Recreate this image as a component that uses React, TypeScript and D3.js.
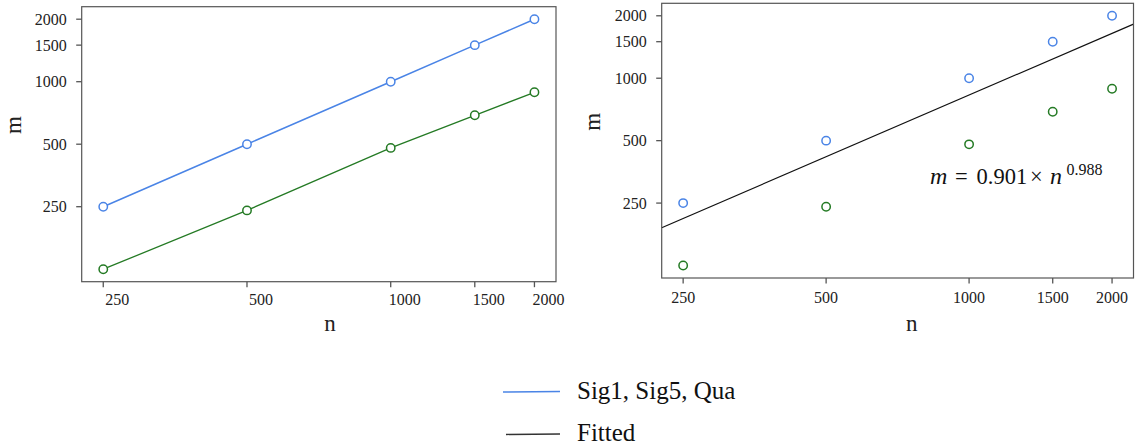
import React from "react";
import * as d3 from "d3";

const nValues = [250, 500, 1000, 1500, 2000];
const sigValues = [250, 500, 1000, 1500, 2000];
const otherValues = [125, 240, 480, 689, 889];
const xTicks = [250, 500, 1000, 1500, 2000];
const yTicks = [250, 500, 1000, 1500, 2000];
const fitCoef = 0.901;
const fitExp = 0.988;
const legendLabels = ["Sig1, Sig5, Qua", "Fitted"];

const BLUE = "#4a84e6";
const GREEN = "#247a24";
const SPINE = "#555";
const FONT = "'Liberation Serif', 'Times New Roman', serif";

function padLog(lo: number, hi: number): [number, number] {
  const a = Math.log10(lo), b = Math.log10(hi);
  const p = (b - a) * 0.05;
  return [Math.pow(10, a - p), Math.pow(10, b + p)];
}

type PanelProps = {
  left: number; right: number; top: number; bottom: number;
  connect: boolean; fit: boolean; xLabelDx: number; xLabelY: number;
  nX: number; mX: number; mY: number;
};

function Panel(p: PanelProps) {
  const all = sigValues.concat(otherValues);
  const x = d3.scaleLog().domain(padLog(d3.min(nValues)!, d3.max(nValues)!)).range([p.left, p.right]);
  const y = d3.scaleLog().domain(padLog(d3.min(all)!, d3.max(all)!)).range([p.bottom, p.top]);
  const line = d3.line<number>().x((_, i) => x(nValues[i])).y((d) => y(d));
  const [dx0, dx1] = x.domain();
  const fitPts = [dx0, dx1].map((n) => [x(n), y(fitCoef * Math.pow(n, fitExp))] as [number, number]);
  return (
    <g>
      {p.connect && <path d={line(sigValues)!} fill="none" stroke={BLUE} strokeWidth={1.5} />}
      {p.connect && <path d={line(otherValues)!} fill="none" stroke={GREEN} strokeWidth={1.3} />}
      {p.fit && <path d={d3.line()(fitPts)!} fill="none" stroke="#111" strokeWidth={1.2} />}
      {sigValues.map((v, i) => (
        <circle key={"b" + i} cx={x(nValues[i])} cy={y(v)} r={4.2} fill="white" stroke={BLUE} strokeWidth={1.5} />
      ))}
      {otherValues.map((v, i) => (
        <circle key={"g" + i} cx={x(nValues[i])} cy={y(v)} r={4.2} fill="white" stroke={GREEN} strokeWidth={1.5} />
      ))}
      <rect x={p.left} y={p.top} width={p.right - p.left} height={p.bottom - p.top} fill="none" stroke={SPINE} strokeWidth={1.2} />
      {yTicks.map((t) => (
        <g key={"yt" + t}>
          <line x1={p.left - 5.5} x2={p.left} y1={y(t)} y2={y(t)} stroke={SPINE} strokeWidth={1.3} />
          <text x={p.left - 15} y={y(t)} dy="0.35em" textAnchor="end" fontSize={16} fontFamily={FONT} fill="#222">{t}</text>
        </g>
      ))}
      {xTicks.map((t) => (
        <g key={"xt" + t}>
          <line x1={x(t)} x2={x(t)} y1={p.bottom} y2={p.bottom + 5.5} stroke={SPINE} strokeWidth={1.3} />
          <text x={x(t) + p.xLabelDx} y={p.xLabelY} textAnchor="middle" fontSize={16} fontFamily={FONT} fill="#222">{t}</text>
        </g>
      ))}
      <text x={p.nX} y={331} textAnchor="middle" fontSize={23} fontFamily={FONT} fill="#222">n</text>
      <text transform={`translate(${p.mX},${p.mY}) rotate(-90)`} textAnchor="middle" fontSize={23} fontFamily={FONT} fill="#222">m</text>
    </g>
  );
}

export default function App() {
  const ax = 930, ay = 184;
  return (
    <div style={{ position: "absolute", left: 0, top: 0 }}>
      <svg width={1135} height={447} style={{ display: "block", background: "white" }}>
        <Panel left={81.7} right={556} top={6.7} bottom={281.7} connect={true} fit={false}
          xLabelDx={14} xLabelY={304.5} nX={330} mX={20.7} mY={125} />
        <Panel left={661.7} right={1133.5} top={3.3} bottom={278} connect={false} fit={true}
          xLabelDx={0} xLabelY={303} nX={911.7} mX={600} mY={121.7} />
        <text y={ay} fontSize={22.5} fontFamily={FONT} fill="#111">
          <tspan x={ax} fontStyle="italic" fontSize={24}>m</tspan>
          <tspan x={ax + 25}>=</tspan>
          <tspan x={ax + 46.5}>0.901</tspan>
          <tspan x={ax + 100}>×</tspan>
          <tspan x={ax + 120} fontStyle="italic" fontSize={24}>n</tspan>
          <tspan x={ax + 136.5} dy={-9} fontSize={16}>0.988</tspan>
        </text>
        <line x1={503} x2={560} y1={392} y2={391.5} stroke={BLUE} strokeWidth={1.6} />
        <text x={577} y={398.5} fontSize={25} fontFamily={FONT} fill="#111">{legendLabels[0]}</text>
        <line x1={506} x2={560} y1={434.5} y2={434} stroke="#333" strokeWidth={1.3} />
        <text x={577} y={440.5} fontSize={25} fontFamily={FONT} fill="#111">{legendLabels[1]}</text>
      </svg>
    </div>
  );
}
